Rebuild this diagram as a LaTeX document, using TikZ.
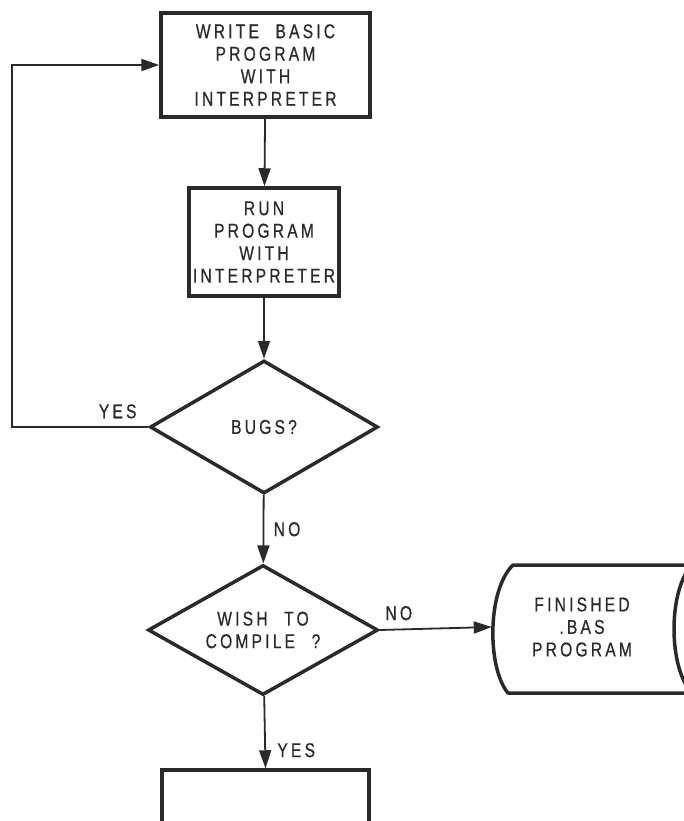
\documentclass[tikz,border=0pt]{standalone}
\usepackage{fontspec}
\setmainfont{Liberation Sans}[FakeStretch=0.78,LetterSpace=16,WordSpace=2.2,FakeBold=0.6]
\usetikzlibrary{shapes.geometric,arrows.meta}

\definecolor{ink}{HTML}{2B2A28}

\tikzset{
    box/.style={draw=ink, line width=3.5pt, inner sep=0pt},
    decision/.style={diamond, draw=ink, line width=3.5pt, inner sep=0pt, aspect=1.7},
    conn/.style={draw=ink, line width=1.8pt, -{Triangle[length=18pt,width=12pt]}},
    lbl/.style={text=ink, font=\fontsize{20}{22.5}\selectfont, align=center},
}

\begin{document}
\begin{tikzpicture}[x=1pt, y=-1pt, every node/.style={lbl}]
        \useasboundingbox (0,0) rectangle (683,821);
        \node[box, minimum width=209pt, minimum height=104pt] (write) at (265.5, 65)
            {WRITE BASIC\\PROGRAM\\WITH\\INTERPRETER};
        \node[box, minimum width=150pt, minimum height=108pt] (run) at (264, 242)
            {RUN\\PROGRAM\\WITH\\INTERPRETER};
        \node[decision, minimum width=228pt, minimum height=133pt] (bugs) at (264, 427) {BUGS?};
        \node[decision, minimum width=230pt, minimum height=130pt] (compile) at (263, 630)
            {WISH TO\\COMPILE ?};
        \node[minimum width=180pt, minimum height=128pt, inner sep=0pt] (finished) at (582, 627)
            {FINISHED\\.BAS\\PROGRAM};
        \node[box, minimum width=207pt, minimum height=110pt] (compilebox) at (265.5, 825) {};
        \coordinate (loopcorner) at (12, 427);
        % stored data outline
        \draw[ink, line width=3.5pt, line join=round]
            (513, 565) -- (692, 565) .. controls (668, 590) and (668, 668) .. (692, 693)
            -- (508, 693) .. controls (487, 668) and (487, 590) .. (513, 565) -- cycle;
        \draw[conn] (write) -- (run);
        \draw[conn] (run) -- (bugs);
        \draw[conn] (bugs.west) -- (loopcorner) |- (write.west);
        \draw[conn] (bugs) -- node[right=6pt] {NO} (compile);
        \draw[conn] (compile.east) -- node[above=5pt, pos=0.17] {NO} (finished.west);
        \draw[conn] (compile) -- node[right=8pt, pos=0.75] {YES} (compilebox.north);
        \node[anchor=south east] (yeslbl) at (140, 422) {YES};
    \end{tikzpicture}
\end{document}
